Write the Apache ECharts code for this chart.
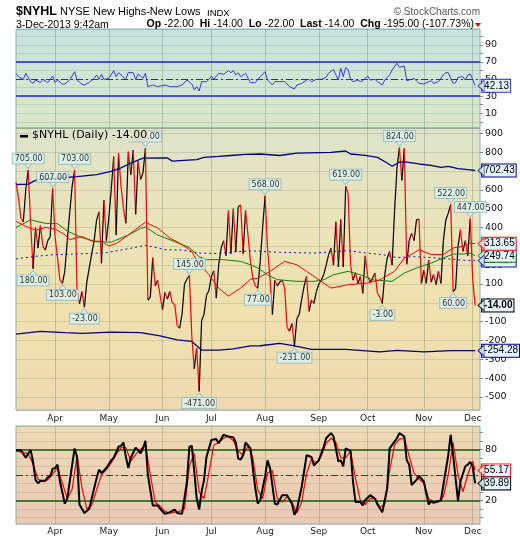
<!DOCTYPE html>
<html><head><meta charset="utf-8">
<script src="https://cdn.jsdelivr.net/npm/echarts/dist/echarts.min.js"></script>
<style>html,body{margin:0;padding:0;background:#fff}#c{width:520px;height:540px}</style>
</head><body><div id="c"></div>
<script>
// ---------- calendar (trading days) ----------
const holidays = ['2013-03-29','2013-05-27','2013-07-04','2013-09-02','2013-11-28'];
const dates = [];
(function(){ let t = Date.UTC(2013,2,7); const end = Date.UTC(2013,11,3);
  while (t <= end) { const d = new Date(t); const dow = d.getUTCDay(); const s = d.toISOString().slice(0,10);
    if (dow !== 0 && dow !== 6 && holidays.indexOf(s) < 0) dates.push(s); t += 86400000; } })();
const categories = dates.concat(['', '']);
const monthNames = ['Jan','Feb','Mar','Apr','May','Jun','Jul','Aug','Sep','Oct','Nov','Dec'];

// ---------- $NYHL daily values ----------
const nyhl = [640,560,450,430,600,705,420,180,400,290,410,300,280,330,350,607,350,240,120,103,
170,330,480,620,703,60,-5,60,-23,110,185,260,330,440,483,210,546,330,450,600,
777,360,794,620,500,422,802,680,811,470,751,655,690,822,15,30,240,90,120,40,
-36,55,20,60,0,-10,-120,-135,-60,100,125,145,-180,-350,-240,-471,-95,-60,40,65,
140,170,25,200,290,330,250,490,260,500,270,510,520,260,490,360,220,130,90,77,
220,400,568,290,130,-63,120,90,110,120,80,-130,-150,-110,-231,-85,-60,20,90,140,
-45,15,-3,60,100,120,150,200,255,290,200,430,190,443,190,619,580,200,120,160,
100,140,50,250,140,110,130,158,52,30,-3,150,238,273,200,485,715,824,650,820,
205,330,370,330,440,445,103,174,103,227,110,150,96,167,103,330,440,475,522,60,
75,300,388,273,330,250,447,130,-14];

// overlays read at sample days: [dayIndex, value]
const upperBand = [[0,628],[5,630],[8,650],[15,660],[25,670],[33,680],[39,698],[43,716],[47,742],[52,768],[62,769],[64,752],[67,755],[74,760],[77,772],[83,777],[88,782],[94,788],[100,790],[108,782],[115,795],[129,799],[135,806],[137,790],[143,783],[148,772],[152,742],[154,725],[157,747],[160,747],[165,737],[170,730],[174,719],[177,724],[181,712],[186,706],[188,702.43]];
const lowerBand = [[0,-166],[10,-152],[20,-158],[27,-162],[39,-156],[51,-158],[59,-176],[66,-197],[72,-205],[76,-251],[83,-251],[89,-245],[96,-229],[100,-228],[108,-215],[114,-229],[121,-247],[135,-247],[149,-260],[156,-252],[167,-260],[178,-254],[188,-254.28]];
const midLine = [[0,233],[8,247],[16,256],[27,260],[37,266],[48,292],[53,306],[61,282],[68,280],[75,264],[82,262],[89,270],[96,276],[108,268],[122,264],[136,277],[143,265],[150,256],[156,240],[163,245],[170,240],[176,234],[183,226],[188,224.07]];
const redMA = [[0,433],[4,406],[8,385],[12,400],[16,392],[20,362],[22,336],[27,352],[31,328],[35,326],[38,302],[41,315],[46,360],[49,390],[53,428],[58,397],[63,344],[68,309],[72,273],[74,225],[79,149],[83,78],[87,36],[92,78],[96,125],[99,131],[104,167],[110,220],[115,202],[119,167],[125,114],[129,78],[136,96],[144,105],[149,122],[155,167],[159,238],[163,265],[165,282],[170,256],[175,256],[179,291],[183,300],[186,317],[188,313.65]];
const greenMA = [[0,400],[6,440],[12,422],[17,420],[21,381],[27,346],[33,324],[39,322],[46,360],[51,395],[53,402],[58,360],[65,325],[71,293],[75,245],[78,229],[85,229],[92,220],[96,202],[99,185],[103,149],[107,123],[115,114],[122,114],[126,122],[130,149],[136,167],[141,149],[146,122],[154,114],[159,158],[164,185],[170,211],[175,238],[179,259],[183,259],[186,264],[188,249.74]];

// RSI (top panel)
const rsi = [[0,56.8],[1,53],[3,49.7],[4,56.8],[6,47],[7,45],[8,49],[10,46],[11,49.7],[13,45.8],[15,53.6],[16,45.8],[17,48.9],[19,44],[20,44.3],[22,48.9],[24,58.7],[25,48.9],[27,44],[28,43.1],[30,46.2],[32,50.9],[33,54.8],[34,49.7],[35,55.6],[36,49.7],[38,50.9],[40,59.9],[41,52.8],[42,57.5],[43,54.8],[45,49.7],[46,57.9],[48,57.5],[49,49.7],[50,56],[52,50.9],[53,56.8],[54,41.1],[56,43.1],[58,41.1],[61,43.1],[63,41.1],[66,41.1],[68,43.1],[70,48.9],[72,44.3],[73,37.2],[74,41.1],[75,36.1],[76,47],[78,47],[79,49.7],[80,53.6],[81,49.7],[83,56.8],[85,55.6],[87,59.9],[88,57.5],[89,59.9],[90,54.8],[91,57.5],[92,52.8],[94,56.8],[96,45.8],[98,45.8],[100,52.8],[102,58.7],[103,48.9],[105,43.1],[106,47],[108,47],[110,47],[111,44.3],[112,41.1],[114,38.4],[115,43.1],[117,45],[119,48.9],[120,49.7],[121,47],[123,49.7],[125,49.7],[127,52.1],[128,56.8],[130,61.4],[131,54.8],[132,48.9],[133,62.6],[134,52.8],[135,63.4],[136,61.4],[137,49.7],[138,47],[140,48.9],[141,47],[142,48.2],[144,53.6],[145,48.9],[147,49.7],[148,47],[150,43.1],[151,48.9],[153,55],[154,60.7],[156,68.5],[157,63.8],[159,65.3],[160,48.2],[162,49.7],[163,50.9],[165,45],[167,44.3],[169,47],[170,48.2],[171,45],[173,47],[175,55],[176,57.5],[177,57.5],[179,45],[180,45.8],[181,52.1],[183,52.8],[184,48.9],[185,54.8],[186,56],[187,49.7],[188,42.13]];

// Stochastics (bottom panel)
const stochK = [[0,79],[2,79],[4,70],[5,75],[6,79],[7,65],[8,44],[9,40],[10,43],[12,43],[13,47],[14,48],[15,57],[16,58],[17,62],[18,42],[20,16],[21,22],[22,42],[24,81],[25,71],[26,15],[28,5],[30,10],[31,22],[33,46],[34,56],[35,52],[37,58],[39,67],[40,70],[42,83],[43,84],[44,88],[45,71],[46,58],[47,70],[49,82],[50,79],[51,75],[52,81],[53,90],[54,50],[56,14],[58,14],[59,10],[61,4],[63,6],[65,9],[66,5],[68,4],[70,42],[71,83],[72,84],[73,54],[74,22],[75,9],[76,30],[77,44],[78,71],[80,91],[82,92],[83,87],[85,97],[87,95],[89,94],[90,88],[91,69],[92,68],[93,73],[94,88],[96,81],[98,34],[99,16],[100,20],[102,48],[103,67],[104,58],[106,16],[107,15],[109,26],[111,26],[113,16],[114,3],[115,9],[117,36],[119,73],[121,71],[122,61],[124,67],[126,83],[127,93],[129,99],[130,95],[132,66],[133,67],[134,60],[135,81],[137,78],[138,42],[139,18],[141,18],[142,14],[143,20],[145,26],[147,22],[148,15],[150,6],[152,34],[153,81],[155,89],[156,93],[157,99],[159,95],[160,67],[161,62],[162,38],[164,44],[165,49],[167,42],[169,15],[170,19],[171,17],[174,20],[175,38],[177,73],[178,97],[179,73],[181,19],[182,42],[184,60],[185,62],[186,65],[187,60],[188,39.89]];
const stochD = [[0,78],[3,76],[5,75],[7,62],[9,45],[11,42],[13,44],[15,51],[17,58],[19,40],[21,22],[23,33],[25,73],[27,35],[29,10],[31,14],[33,32],[35,50],[37,56],[39,64],[41,74],[43,82],[45,82],[47,66],[49,74],[51,80],[53,85],[55,50],[57,18],[59,13],[61,7],[63,5],[65,6],[67,7],[69,10],[71,60],[73,75],[75,30],[77,22],[79,52],[81,85],[83,88],[85,93],[87,95],[89,90],[91,78],[93,73],[95,84],[97,70],[99,32],[101,22],[103,52],[105,55],[107,22],[109,18],[111,24],[113,18],[115,5],[117,18],[119,52],[121,68],[123,64],[125,72],[127,87],[129,93],[131,88],[133,70],[135,70],[137,78],[139,46],[141,20],[143,15],[145,22],[147,22],[149,12],[151,15],[153,55],[155,85],[157,92],[159,93],[161,72],[163,52],[165,45],[167,40],[169,22],[171,18],[173,18],[175,24],[177,50],[179,88],[181,50],[183,30],[185,50],[187,66],[188,55.17]];

// annotated peaks/troughs
const annoIdx  = [5,15,24,53,71,102,135,157,178,186, 7,19,28,75,99,114,150,179];
const annoVal  = [705,607,703,822,145,568,619,824,522,447, 180,103,-23,-471,77,-231,-3,60];
const annoSide = ['t','t','t','t','t','t','t','t','t','t', 'b','b','b','b','b','b','b','b'];

// right-edge value tags
const tagRSI = 42.13, tagUpper = 702.43, tagRed = 313.65, tagGreen = 249.74, tagMid = 224.07, tagLast = -14.00, tagLower = -254.28, tagD = 55.17, tagK = 39.89;

// ---------- helpers ----------
function isMonthStart(i){ return i > 0 && i < dates.length && dates[i].slice(5,7) !== dates[i-1].slice(5,7); }
const F = 'DejaVu Sans';
const lastIdx = dates.length - 1;
function grad(stops){ return {type:'linear',x:0,y:0,x2:0,y2:1,colorStops:stops.map(s=>({offset:s[0],color:s[1]}))}; }
function xAx(g, show, margin, vcol){
  return {type:'category', gridIndex:g, data:categories, boundaryGap:false,
    axisLine:{show:false}, axisTick:{show:false},
    axisLabel:{show:show, interval:(i)=>isMonthStart(i), margin:margin, fontSize:9, fontFamily:F, color:'#222',
      formatter:(v)=> v ? monthNames[+v.slice(5,7)-1] : ''},
    splitLine:{show:true, interval:(i)=>isMonthStart(i), lineStyle:{color:vcol, width:1}}};
}
function yAx(g, min, max, step, labels, hcol){
  return {type:'value', gridIndex:g, position:'right', min:min, max:max, minInterval:step, maxInterval:step,
    splitNumber:Math.round((max-min)/step),
    axisLine:{show:false}, axisTick:{show:true, length:3, lineStyle:{color:'#888'}},
    axisLabel:{showMinLabel:false, showMaxLabel:false, margin:5, fontSize:9.5, fontFamily:F, color:'#111',
      formatter:(v)=>{ const r=Math.round(v); return (Math.abs(v-r)<1e-6 && labels.indexOf(r)>=0) ? String(r) : ''; }},
    splitLine:{show:true, lineStyle:{color:hcol, width:1}}};
}
const TAGBG = '#e4f6fb';
function endTag(val, border, bold){
  return {show:true, formatter:val.toFixed(2), distance:7, backgroundColor:TAGBG, borderColor:border, borderWidth:1,
    padding:[1,1,0,2], color:'#000', fontSize:10, fontFamily:'Liberation Sans', fontWeight: bold?'bold':'normal', lineHeight:11};
}
function overlay(data, color, width, type, tag, z){
  return {type:'line', xAxisIndex:1, yAxisIndex:1, data:data, showSymbol:false, symbol:'none', z:z||3,
    lineStyle:{color:color, width:width, type:type||'solid'}, itemStyle:{color:color}, silent:true,
    endLabel:endTag(tag, color)};
}
function tagArrows(ax, items){
  return {type:'scatter', xAxisIndex:ax, yAxisIndex:ax, symbol:'triangle', symbolSize:[11,6], symbolRotate:90,
    symbolOffset:[6,0], silent:true, z:9, clip:false,
    data: items.map(it=>({value:[lastIdx, it[0]], itemStyle:{color:TAGBG, borderColor:it[1], borderWidth:1}}))};
}

// price segments coloured by direction
const segs = [];
for (let i = 0; i < nyhl.length-1; i++) {
  segs.push({coords:[[i, nyhl[i]],[i+1, nyhl[i+1]]], lineStyle:{color: nyhl[i+1] >= nyhl[i] ? '#000000' : '#ff0000'}});
}
const annoLabels = annoIdx.map((ix,k)=>({value:[ix, annoVal[k]],
  label:{position: annoSide[k]==='t' ? 'top' : 'bottom'}}));
const annoTri = annoIdx.map((ix,k)=>({value:[ix, annoVal[k]], symbolRotate: annoSide[k]==='t'?180:0,
  symbolOffset:[0, annoSide[k]==='t' ? -4 : 4]}));

const chart = echarts.init(document.getElementById('c'), null, {renderer:'canvas'});
chart.setOption({
  animation:false,
  backgroundColor:'#ffffff',
  grid:[
    {left:16, right:40, top:29, height:99, show:true, borderColor:'#8fb1b1', borderWidth:1,
      backgroundColor:grad([[0,'#c5e3df'],[0.5,'#d1e6d4'],[1,'#dbe6c9']])},
    {left:16, right:40, top:128, height:282, show:true, borderColor:'#8fb1b1', borderWidth:1,
      backgroundColor:grad([[0,'#dde3c9'],[0.35,'#ebe4b9'],[0.65,'#f0e1ae'],[1,'#eedab0']])},
    {left:16, right:40, top:426, height:98, show:true, borderColor:'#8fb1b1', borderWidth:1,
      backgroundColor:grad([[0,'#eddab4'],[1,'#e9cab6']])}
  ],
  xAxis:[ xAx(0,false,4,'rgba(90,130,120,0.35)'), xAx(1,true,4,'rgba(110,130,110,0.35)'), xAx(2,true,3,'rgba(130,120,100,0.35)') ],
  yAxis:[ yAx(0,-7.3,108.7,10,[90,70,50,30,10],'rgba(90,130,120,0.2)'),
          yAx(1,-569,928,100,[900,800,700,600,500,400,300,200,100,0,-100,-200,-300,-400,-500],'rgba(120,120,80,0.22)'),
          yAx(2,-7.9,107.4,10,[80,50,20],'rgba(150,110,80,0.2)') ],
  series:[
    // RSI panel
    {type:'line', xAxisIndex:0, yAxisIndex:0, data:rsi, showSymbol:false, symbol:'none', silent:true, z:4,
      lineStyle:{color:'#3b3bdc', width:1}, itemStyle:{color:'#3b3bdc'},
      endLabel:endTag(tagRSI,'#2a2ad0'),
      markLine:{silent:true, symbol:'none', label:{show:false}, animation:false,
        data:[{yAxis:70, lineStyle:{color:'#2222d8', width:1.5, type:'solid'}},
              {yAxis:30, lineStyle:{color:'#2222d8', width:1.5, type:'solid'}},
              {yAxis:50, lineStyle:{color:'#2a2ac0', width:1, type:[7,3,2,3]}}]}},
    tagArrows(0, [[tagRSI,'#2a2ad0']]),
    // main panel: price
    {type:'lines', coordinateSystem:'cartesian2d', xAxisIndex:1, yAxisIndex:1, polyline:false, silent:true, z:2,
      lineStyle:{width:1.2, opacity:1}, data:segs},
    {type:'line', xAxisIndex:1, yAxisIndex:1, data:nyhl, showSymbol:false, symbol:'none', silent:true, z:6,
      lineStyle:{opacity:0}, itemStyle:{color:'#000'}, endLabel:endTag(tagLast,'#000000',true)},
    overlay(upperBand, '#000080', 1.3, 'solid', tagUpper),
    overlay(lowerBand, '#000080', 1.3, 'solid', tagLower),
    overlay(midLine, '#1010c8', 1, [2,3], tagMid, 3),
    overlay(greenMA, '#0a800a', 1, 'solid', tagGreen, 4),
    overlay(redMA, '#ff0000', 1, 'solid', tagRed, 5),
    tagArrows(1, [[tagUpper,'#000080'],[tagRed,'#ff0000'],[tagGreen,'#0a800a'],[tagMid,'#1010c8'],[tagLast,'#000000'],[tagLower,'#000080']]),
    {type:'scatter', xAxisIndex:1, yAxisIndex:1, data:annoTri, symbol:'triangle', symbolSize:[8,5], silent:true, z:7,
      itemStyle:{color:'#dcf3f3', borderColor:'#98baba', borderWidth:1}},
    {type:'scatter', xAxisIndex:1, yAxisIndex:1, data:annoLabels, symbolSize:1, silent:true, z:8,
      itemStyle:{color:'rgba(0,0,0,0)'},
      label:{show:true, distance:6, formatter:(p)=>p.value[1].toFixed(2), backgroundColor:'#dcf3f3', borderColor:'#98baba',
        borderWidth:1, padding:[1,1,0,2], fontSize:8, fontFamily:F, color:'#000', lineHeight:9}},
    // stochastics
    {type:'line', xAxisIndex:2, yAxisIndex:2, data:stochD, showSymbol:false, symbol:'none', silent:true, z:4,
      lineStyle:{color:'#ff0000', width:1.2}, itemStyle:{color:'#ff0000'}, endLabel:endTag(tagD,'#ff0000'),
      markLine:{silent:true, symbol:'none', label:{show:false}, animation:false,
        data:[{yAxis:80, lineStyle:{color:'#0b5f0b', width:1.5, type:'solid'}},
              {yAxis:20, lineStyle:{color:'#0b5f0b', width:1.5, type:'solid'}},
              {yAxis:50, lineStyle:{color:'#0b5f0b', width:1, type:[7,3,2,3]}}]}},
    {type:'line', xAxisIndex:2, yAxisIndex:2, data:stochK, showSymbol:false, symbol:'none', silent:true, z:5,
      lineStyle:{color:'#000000', width:2}, itemStyle:{color:'#000'}, endLabel:endTag(tagK,'#000000')},
    tagArrows(2, [[tagD,'#ff0000'],[tagK,'#000000']])
  ],
  graphic:[
    {type:'text', left:16, top:5, z:10, style:{text:'$NYHL', font:'bold 12.5px "Liberation Sans"', fill:'#000'}},
    {type:'text', left:60, top:6, z:10, style:{text:'NYSE New Highs-New Lows', font:'11px "Liberation Sans"', fill:'#000'}},
    {type:'text', left:207, top:8, z:10, style:{text:'INDX', font:'9.5px "Liberation Sans"', fill:'#000'}},
    {type:'text', right:40, top:7, z:10, style:{text:'\u00a9 StockCharts.com', font:'10px "Liberation Sans"', fill:'#555'}},
    {type:'text', left:16, top:20, z:10, style:{text:'3-Dec-2013 9:42am', font:'10.5px "Liberation Sans"', fill:'#000'}},
    {type:'text', right:46, top:19, z:10, style:{
      text:'{b|Op} -22.00  {b|Hi} -14.00  {b|Lo} -22.00  {b|Last} -14.00  {b|Chg} -195.00 (-107.73%)',
      font:'10.5px "Liberation Sans"', fill:'#000',
      rich:{b:{fontWeight:'bold', fontSize:10.5, fontFamily:'Liberation Sans'}}}},
    {type:'polygon', z:10, shape:{points:[[475,23],[481,23],[478,27]]}, style:{fill:'#dd0000'}},
    {type:'rect', z:10, shape:{x:20, y:135, width:8, height:2.5}, style:{fill:'#000'}},
    {type:'text', left:31, top:130, z:20, style:{text:'$NYHL (Daily) -14.00', font:'11px "DejaVu Sans"', fill:'#000',
      backgroundColor:'#dde3c9', padding:[0,1,0,1]}}
  ]
});
</script></body></html>
